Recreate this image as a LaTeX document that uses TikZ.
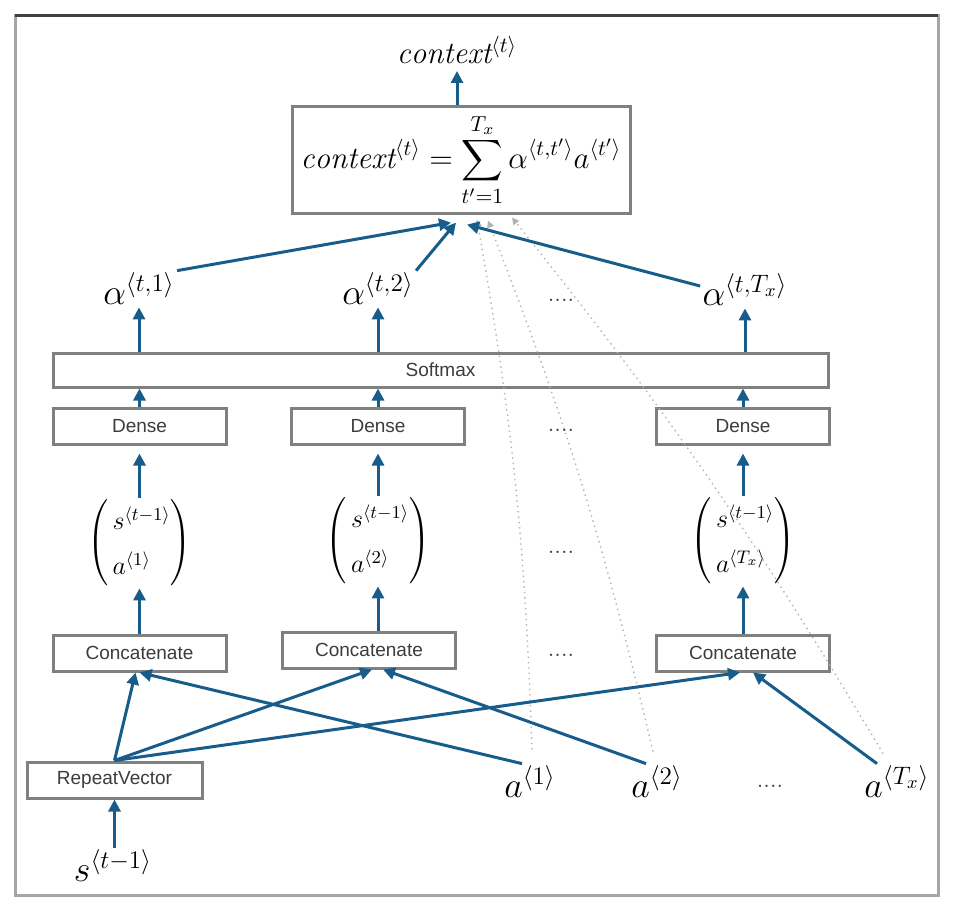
\RequirePackage{fix-cm}
\documentclass[tikz,border=0pt]{standalone}
\usepackage{fontspec}
\setsansfont{Liberation Sans}
\usepackage{amsmath}
\usepackage{tikz}
\usetikzlibrary{arrows.meta}
\definecolor{arrowblue}{RGB}{24,92,140}
\definecolor{boxgray}{RGB}{128,128,128}
\definecolor{labelgray}{RGB}{60,60,60}
\newcommand{\tstep}[1]{^{\langle #1\rangle}}
\newcommand{\stackvec}[2]{\def\arraystretch{1.5}\left(\begin{array}{@{\,}l@{}}#1\\ #2\end{array}\right)}

\begin{document}
\begin{tikzpicture}[x=0.5pt,y=-0.5pt,
    layer/.style={draw=boxgray,line width=1.5pt,fill=white,text=labelgray,font=\sffamily\fontsize{9.5}{11}\selectfont,minimum width=86.5pt,minimum height=18pt,inner sep=0pt},
    biglabel/.style={font=\fontsize{18}{22}\selectfont,inner sep=1pt},
    ctxfont/.style={font=\fontsize{15.5}{18}\selectfont},
    vecnode/.style={font=\fontsize{13}{15}\selectfont,inner sep=0pt},
    gapdots/.style={font=\fontsize{12}{14}\selectfont,text=labelgray,inner sep=0pt},
    flow/.style={-{Triangle[length=6pt,width=6pt]},draw=arrowblue,line width=1.5pt},
    hint/.style={-{Triangle[length=3.5pt,width=3.5pt]},draw=gray!60,dotted,line width=0.7pt}]
          \useasboundingbox (0,0) rectangle (954,912);
          % frame
          \draw[boxgray!70,line width=1.5pt] (15,15) rectangle (938,895);
          \draw[black!75,line width=1.5pt] (15,15) -- (938,15);
          % context on top
          \node[ctxfont] (ctxout) at (457,50) {$\mathit{context}\tstep{t}$};
          \node[ctxfont,draw=boxgray,line width=1.5pt,minimum width=169pt,minimum height=50pt] (sum) at (461,160) {$\displaystyle\mathit{context}\tstep{t}=\sum_{t'=1}^{T_x}\alpha\tstep{t,t'}a\tstep{t'}$};
          \draw[flow] (sum.north -| ctxout) -- (ctxout.south);
          % attention weights
          \node[biglabel] (alpha1) at (139,289) {$\alpha\tstep{t,1}$};
          \node[biglabel] (alpha2) at (378,289) {$\alpha\tstep{t,2}$};
          \node[biglabel] (alphaT) at (745,290) {$\alpha\tstep{t,T_x}$};
          % softmax
          \node[layer,minimum width=387.5pt,minimum height=17pt] (softmax) at (440.5,370) {Softmax};
          % dense layers
          \node[layer] (dense1) at (139.5,426) {Dense};
          \node[layer] (dense2) at (378,426) {Dense};
          \node[layer] (dense3) at (743,426) {Dense};
          % concatenated vectors
          \node[vecnode] (vec1) at (139.5,543) {$\stackvec{s\tstep{t-1}}{a\tstep{1}}$};
          \node[vecnode] (vec2) at (378,541) {$\stackvec{s\tstep{t-1}}{a\tstep{2}}$};
          \node[vecnode] (vec3) at (743,541) {$\stackvec{s\tstep{t-1}}{a\tstep{T_x}}$};
          % concatenate layers
          \node[layer] (cat1) at (139.5,653) {Concatenate};
          \node[layer] (cat2) at (369,650) {Concatenate};
          \node[layer] (cat3) at (743,653) {Concatenate};
          % repeat vector and inputs
          \node[layer,minimum width=87.5pt] (repeat) at (114.5,780) {RepeatVector};
          \node[biglabel] (sprev) at (113,866) {$s\tstep{t-1}$};
          \node[biglabel] (a1) at (530,782) {$a\tstep{1}$};
          \node[biglabel] (a2) at (657,782) {$a\tstep{2}$};
          \node[biglabel] (aT) at (897,782) {$a\tstep{T_x}$};
          % gaps
          \node[gapdots] (gap1) at (561,300) {....};
          \node[gapdots] (gap2) at (561,430) {....};
          \node[gapdots] (gap3) at (561,552) {....};
          \node[gapdots] (gap4) at (561,655) {....};
          \node[gapdots] (gap5) at (770,786) {....};
          % dotted links from the annotations to the sum
          \draw[hint] ([xshift=1pt,yshift=7pt]a1.north) to[bend right=4] ([xshift=8pt,yshift=-2.5pt]sum.south);
          \draw[hint] ([xshift=-2pt,yshift=6pt]a2.north) to[bend right=4] ([xshift=13.5pt,yshift=-3pt]sum.south);
          \draw[hint] ([xshift=-7pt,yshift=5pt]aT.north) to[bend right=4] ([xshift=25.5pt,yshift=-1.5pt]sum.south);
          % weights into the sum
          \draw[flow] (alpha1.north east) -- ([xshift=-5pt,yshift=-4pt]sum.south);
          \draw[flow] (alpha2.north east) -- ([xshift=-2.5pt,yshift=-4pt]sum.south);
          \draw[flow] ([yshift=2pt]alphaT.west) -- ([xshift=3pt,yshift=-5pt]sum.south);
          % softmax to weights
          \draw[flow] (softmax.north -| alpha1) -- (alpha1.south);
          \draw[flow] (softmax.north -| alpha2) -- (alpha2.south);
          \draw[flow] (softmax.north -| alphaT) -- (alphaT.south);
          % dense to softmax
          \draw[flow] (dense1.north) -- (dense1.north |- softmax.south);
          \draw[flow] (dense2.north) -- (dense2.north |- softmax.south);
          \draw[flow] (dense3.north) -- (dense3.north |- softmax.south);
          % vectors to dense
          \draw[flow,shorten >=4pt] (vec1.north) -- (dense1.south);
          \draw[flow,shorten >=4pt] (vec2.north) -- (dense2.south);
          \draw[flow,shorten >=4pt] (vec3.north) -- (dense3.south);
          % concatenate to vectors
          \draw[flow] (cat1.north -| vec1) -- (vec1.south);
          \draw[flow] (cat2.north -| vec2) -- (vec2.south);
          \draw[flow] (cat3.north -| vec3) -- (vec3.south);
          % repeat vector to concatenate
          \draw[flow] (sprev.north -| repeat) -- (repeat.south);
          \draw[flow] (repeat.north) -- ([xshift=-2pt]cat1.south);
          \draw[flow] (repeat.north) -- ([xshift=1.5pt]cat2.south);
          \draw[flow] (repeat.north) -- ([xshift=-1.5pt]cat3.south);
          % annotations to concatenate
          \draw[flow] ([xshift=-4pt]a1.north) -- (cat1.south);
          \draw[flow] ([xshift=-5.5pt]a2.north) -- ([xshift=7pt]cat2.south);
          \draw[flow] ([xshift=-10pt]aT.north) -- ([xshift=5pt]cat3.south);
\end{tikzpicture}
\end{document}
